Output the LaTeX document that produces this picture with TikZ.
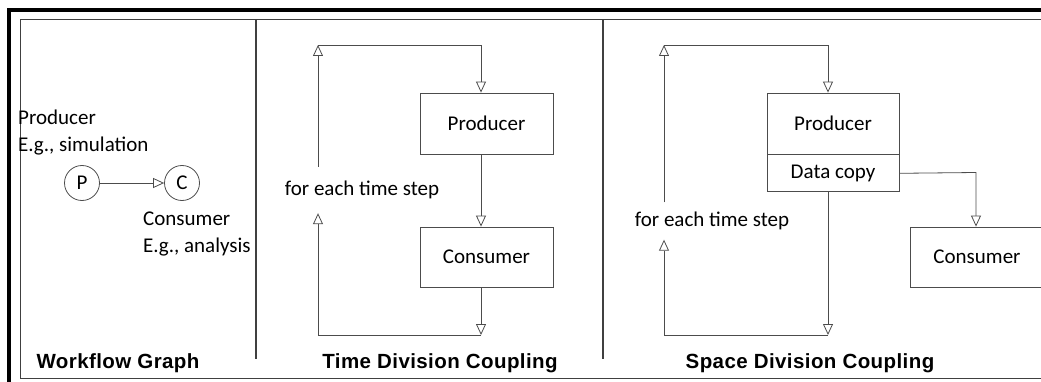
\documentclass[tikz,border=0pt]{standalone}
\usepackage{fontspec}
\setmainfont{Carlito}
\newfontfamily\titlefont{Liberation Sans}[LetterSpace=2]
\usetikzlibrary{arrows.meta}

\begin{document}
\begin{tikzpicture}[x=1pt, y=-1pt,
    txt/.style={font=\fontsize{21}{27}\selectfont},
    box/.style={txt, draw=black!70, line width=0.8pt, rectangle, minimum width=133pt, inner sep=0pt},
    circ/.style={txt, draw=black!70, line width=0.8pt, circle, minimum size=35pt, inner sep=0pt},
    note/.style={txt, align=left, anchor=west, inner sep=2pt},
    lbl/.style={txt, inner sep=0pt},
    title/.style={font=\titlefont\bfseries\fontsize{20.5}{22}\selectfont},
    arr/.style={draw=black!70, line width=0.8pt, -{Triangle[open, length=11pt, width=10pt]}}]
                \clip (0,0) rectangle (1041,382);
                % frames
                \draw[line width=3.5pt] (9,385) -- (9,10) -- (1045,10);
                \draw[black!75, line width=1pt] (1045,20) -- (20,20) -- (20,378) -- (1045,378);
                \draw[black!75, line width=2pt] (256,20) -- (256,359);
                \draw[black!75, line width=2pt] (603,20) -- (603,359);
                % workflow graph
                \node[circ] (p) at (82,183) {P};
                \node[circ] (c) at (182,183) {C};
                \draw[arr] (p) -- (c);
                \node[note] (pnote) at (16,133) {Producer\\E.g., simulation};
                \node[note] (cnote) at (141,234) {Consumer\\E.g., analysis};
                \node[title] (t1) at (118,363) {Workflow Graph};
                % time division
                \node[box, minimum height=61pt] (prod1) at (486.5,123.5) {Producer};
                \node[box, minimum height=60pt] (cons1) at (486.5,257) {Consumer};
                \node[lbl, minimum height=46pt] (step1) at (362,190) {for each time step};
                \coordinate (tl1) at (318,45);
                \coordinate (tr1) at (481,45);
                \coordinate (bl1) at (318,335);
                \coordinate (br1) at (481,335);
                \draw[arr] (prod1.south -| tr1) -- (cons1.north -| tr1);
                \draw[arr] (cons1.south -| br1) -- (br1);
                \draw[arr] (br1) -- (bl1) -- (step1.south -| bl1);
                \draw[arr] (step1.north -| tl1) -- (tl1);
                \draw[arr] (tl1) -- (tr1) -- (prod1.north -| tr1);
                \node[title] (t2) at (440,363) {Time Division Coupling};
                % space division
                \node[box, minimum width=132pt, minimum height=61pt] (prod2) at (833,123.5) {Producer};
                \node[box, minimum width=132pt, minimum height=37pt, anchor=north] (copy2) at (prod2.south) {Data copy};
                \node[box, minimum width=134pt, minimum height=60pt] (cons2) at (977,257) {Consumer};
                \node[lbl, minimum height=37pt] (step2) at (712,221) {for each time step};
                \coordinate (tl2) at (664,45);
                \coordinate (tr2) at (828,45);
                \coordinate (bl2) at (664,335);
                \coordinate (br2) at (828,335);
                \coordinate (cx2) at (976,172.5);
                \draw[arr] (copy2.south -| br2) -- (br2);
                \draw[arr] (br2) -- (bl2) -- (step2.south -| bl2);
                \draw[arr] (step2.north -| tl2) -- (tl2);
                \draw[arr] (tl2) -- (tr2) -- (prod2.north -| tr2);
                \draw[arr] (copy2.east) -- (cx2) -- (cons2.north -| cx2);
                \node[title] (t3) at (810,363) {Space Division Coupling};
            \end{tikzpicture}
\end{document}
